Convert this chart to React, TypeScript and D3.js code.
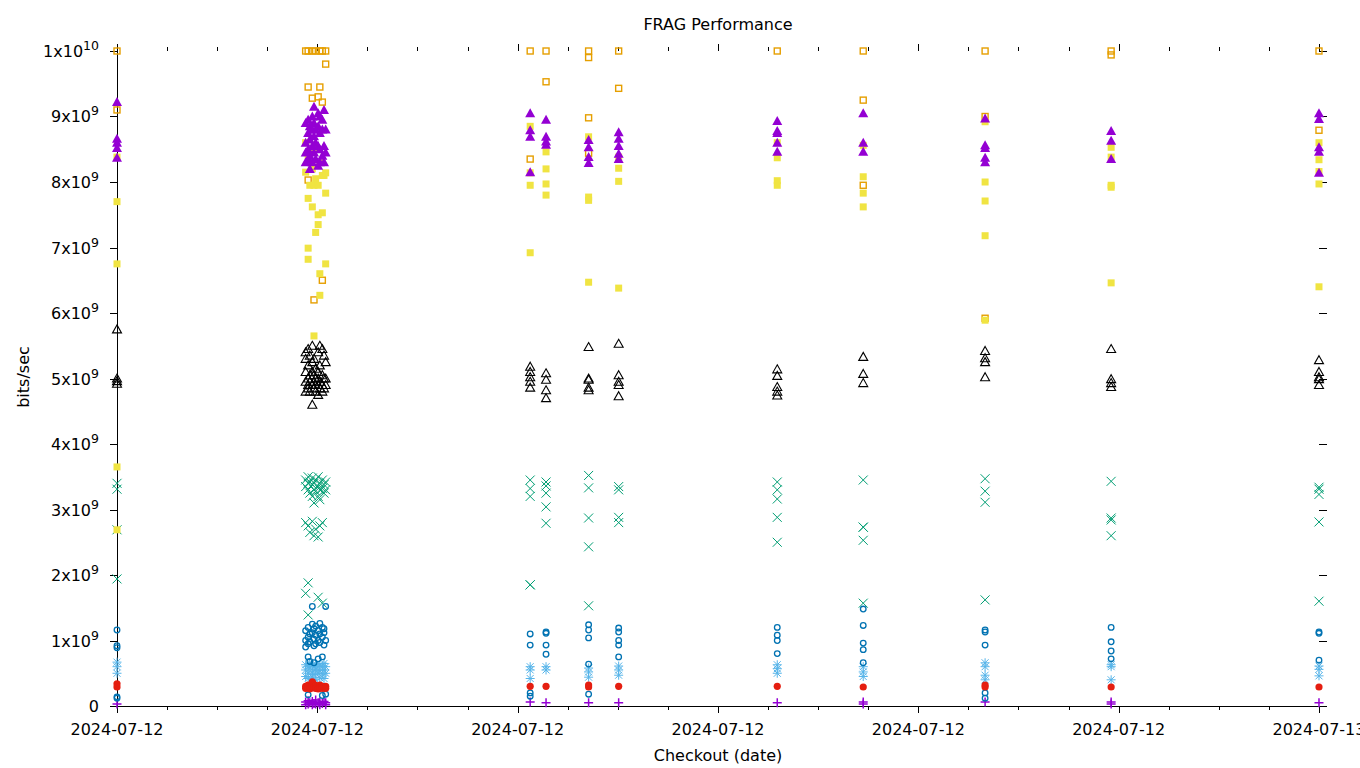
import React from "react";
import * as d3 from "d3";

// ---------- data (values in units of 1e9 bits/sec, time in minutes after 2024-07-12 00:00 UTC) ----------
const TITLE = "FRAG Performance";
const X_LABEL = "Checkout (date)";
const Y_LABEL = "bits/sec";

const yTickValues = [0, 1, 2, 3, 4, 5, 6, 7, 8, 9, 10];

// series 1: plus
const plusPts: [number, number[]][] = [
  [0, [0.03]],
  [226, [0.06, 0.02]], [229, [0.08, 0.03]], [231, [0.05]], [234, [0.07, 0.02]], [236, [0.04]],
  [238, [0.09, 0.03]], [241, [0.05]], [243, [0.06, 0.02]], [246, [0.04]], [248, [0.07]], [250, [0.05, 0.02]],
  [495, [0.06]], [514, [0.05]], [565, [0.05]], [601, [0.05]], [791, [0.05]],
  [894, [0.06, 0.03]], [1040, [0.06]], [1191, [0.06, 0.03]], [1440, [0.05]],
];
// series 2: cross
const crossPts: [number, number[]][] = [
  [0, [3.4, 3.31, 2.69, 1.94]],
  [226, [3.45, 3.35, 2.8, 1.72]], [229, [3.5, 3.4, 3.3, 2.75, 1.88, 1.39]], [231, [3.42, 3.25, 2.65]],
  [234, [3.48, 3.38, 3.2, 2.82]], [236, [3.4, 3.3, 3.1, 2.6]], [238, [3.45, 3.28, 2.7]],
  [241, [3.5, 3.35, 3.2, 2.58, 1.66]], [243, [3.4, 3.3, 3.15, 2.75]], [246, [3.45, 3.32, 2.8, 1.57]],
  [248, [3.38, 3.25]], [250, [3.42, 3.3]],
  [495, [3.45, 3.32, 3.2, 1.85, 1.85]], [514, [3.42, 3.36, 3.25, 3.04, 2.79]],
  [565, [3.52, 3.33, 2.87, 2.43, 1.53]], [601, [3.35, 3.3, 2.88, 2.8]],
  [791, [3.42, 3.3, 3.16, 2.88, 2.5]], [894, [3.45, 2.73, 2.73, 2.53, 1.57]],
  [1040, [3.47, 3.28, 3.11, 1.62]], [1191, [3.43, 2.87, 2.84, 2.6]], [1440, [3.34, 3.31, 3.23, 2.81, 1.6]],
];
// series 3: star
const starPts: [number, number[]][] = [
  [0, [0.67, 0.6, 0.5]],
  [226, [0.63, 0.55, 0.45]], [229, [0.6, 0.5, 0.42]], [231, [0.65, 0.58]], [234, [0.62, 0.52, 0.44]],
  [236, [0.6, 0.48]], [238, [0.64, 0.56, 0.4]], [241, [0.6, 0.5]], [243, [0.63, 0.54, 0.43]],
  [246, [0.61, 0.49]], [248, [0.65, 0.55, 0.42]], [250, [0.6, 0.5]],
  [495, [0.6, 0.55, 0.42]], [514, [0.6, 0.55]], [565, [0.58, 0.52, 0.44]], [601, [0.61, 0.55, 0.47]],
  [791, [0.63, 0.57, 0.5]], [894, [0.6, 0.52, 0.45]], [1040, [0.66, 0.6, 0.47, 0.4]],
  [1191, [0.63, 0.6, 0.4]], [1440, [0.61, 0.56, 0.46]],
];
// series 4: open square
const openSqPts: [number, number[]][] = [
  [0, [10, 9.1]],
  [226, [10]], [229, [10, 9.45, 8.03]], [234, [10, 9.28]], [236, [6.2]], [238, [10]], [241, [9.3]],
  [243, [10, 9.45]], [246, [10, 9.22, 6.5]], [250, [10, 9.8]],
  [495, [10, 8.35]], [514, [10, 9.53]], [565, [10, 9.9, 8.98, 8.44]], [601, [10, 9.43]],
  [791, [10]], [894, [10, 9.25, 7.95]], [1040, [10, 9.0, 5.92]], [1191, [10, 9.94]], [1440, [10, 8.79]],
];
// series 5: filled square
const fillSqPts: [number, number[]][] = [
  [0, [8.38, 7.7, 6.75, 3.65, 2.69]],
  [226, [8.6, 8.15]], [229, [8.4, 7.75, 6.99, 6.82]], [231, [7.95]], [234, [8.2, 7.62]],
  [236, [8.5, 7.95, 5.65]], [238, [8.05, 7.23]], [241, [7.95, 7.5, 7.35]], [243, [8.3, 6.6, 6.27]],
  [246, [8.1, 7.53]], [248, [8.1]], [250, [8.14, 7.83, 6.75]],
  [495, [8.85, 8.14, 7.95, 6.92]], [514, [8.46, 8.2, 7.97, 7.8]], [565, [8.69, 7.77, 7.72, 6.47]],
  [601, [8.38, 8.21, 8.01, 6.38]], [791, [8.6, 8.37, 8.02, 7.95]], [894, [8.56, 8.08, 7.83, 7.62]],
  [1040, [8.92, 8.0, 7.71, 7.18, 5.89]], [1191, [8.53, 8.38, 7.95, 7.92, 6.46]],
  [1440, [8.6, 8.34, 8.16, 7.97, 6.4]],
];
// series 6: open circle
const openCircPts: [number, number[]][] = [
  [0, [1.16, 0.92, 0.89, 0.14, 0.12]],
  [226, [1.15, 1.0, 0.9]], [229, [1.2, 1.05, 0.95, 0.75, 0.17]], [231, [1.1, 0.98, 0.68]],
  [234, [1.52, 1.25, 1.12]], [236, [1.18, 1.02, 0.92, 0.66]], [238, [1.22, 1.08, 0.95]],
  [241, [1.15, 1.0, 0.72]], [243, [1.26, 1.1, 0.97]], [246, [1.2, 1.05, 0.75, 0.16]],
  [248, [1.18, 1.12, 0.93]], [250, [1.52, 1.0, 0.18]],
  [495, [1.1, 0.93, 0.2, 0.15]], [514, [1.13, 1.11, 0.93, 0.79]], [565, [1.24, 1.16, 1.04, 0.64, 0.18]],
  [601, [1.19, 1.13, 1.0, 0.93, 0.75]], [791, [1.2, 1.08, 1.0, 0.8]], [894, [1.48, 1.23, 0.96, 0.86, 0.66]],
  [1040, [1.16, 1.13, 0.93, 0.2, 0.12]], [1191, [1.2, 0.98, 0.84, 0.72]], [1440, [1.13, 1.11, 0.7]],
];
// series 7: filled circle
const fillCircPts: [number, number[]][] = [
  [0, [0.34, 0.29]],
  [226, [0.3, 0.27]], [229, [0.32, 0.28]], [231, [0.3, 0.26]], [234, [0.37, 0.3]], [236, [0.33, 0.28]],
  [238, [0.31, 0.27]], [241, [0.3, 0.26]], [243, [0.32, 0.28]], [246, [0.3, 0.27]], [248, [0.29]],
  [250, [0.3, 0.27]],
  [495, [0.3]], [514, [0.3]], [565, [0.32, 0.29]], [601, [0.3]], [791, [0.3]], [894, [0.29]],
  [1040, [0.32, 0.29]], [1191, [0.29]], [1440, [0.29]],
];
// series 8: open triangle
const openTriPts: [number, number[]][] = [
  [0, [5.75, 5.0, 4.96, 4.92]],
  [226, [5.4, 5.3, 5.1, 4.95, 4.8]], [229, [5.45, 5.2, 5.0, 4.9, 4.85]], [231, [5.35, 5.05, 4.95, 4.8]],
  [234, [5.5, 5.25, 5.1, 4.9, 4.6]], [236, [5.3, 5.05, 4.95, 4.85]], [238, [5.15, 5.0, 4.9, 4.8]],
  [241, [5.4, 5.1, 5.0, 4.9, 4.75]], [243, [5.5, 5.2, 4.95, 4.85]], [246, [5.45, 5.05, 4.9, 4.8]],
  [248, [5.35, 5.0, 4.85]], [250, [5.25, 5.0, 4.9]],
  [495, [5.18, 5.1, 5.02, 4.95, 4.86]], [514, [5.08, 4.98, 4.82, 4.7]], [565, [5.48, 5.0, 4.98, 4.86, 4.82]],
  [601, [5.53, 5.05, 4.95, 4.9, 4.73]], [791, [5.14, 5.04, 4.87, 4.8, 4.74]], [894, [5.33, 5.07, 4.93]],
  [1040, [5.42, 5.31, 5.25, 5.02]], [1191, [5.45, 4.99, 4.93, 4.87]], [1440, [5.28, 5.1, 5.02, 4.99, 4.9]],
];
// series 9: filled triangle
const fillTriPts: [number, number[]][] = [
  [0, [9.22, 8.66, 8.6, 8.52, 8.37]],
  [226, [8.9, 8.6, 8.45, 8.3]], [229, [8.95, 8.75, 8.5, 8.35]], [231, [8.85, 8.65, 8.4, 8.2]],
  [234, [9.0, 8.8, 8.55, 8.3]], [236, [9.15, 8.9, 8.7, 8.45]], [238, [8.8, 8.6, 8.35]],
  [241, [9.05, 8.85, 8.55, 8.25]], [243, [9.0, 8.75, 8.5, 8.3]], [246, [8.95, 8.8, 8.4]],
  [248, [9.1, 8.55, 8.3]], [250, [8.8, 8.45]],
  [495, [9.05, 8.79, 8.69, 8.15]], [514, [8.95, 8.69, 8.62, 8.57]], [565, [8.64, 8.53, 8.38, 8.29]],
  [601, [8.76, 8.66, 8.55, 8.43, 8.35]], [791, [8.93, 8.78, 8.75, 8.6, 8.46]], [894, [9.05, 8.6, 8.46]],
  [1040, [8.97, 8.56, 8.52, 8.37, 8.3]], [1191, [8.78, 8.63, 8.35]], [1440, [9.05, 8.96, 8.53, 8.46, 8.14]],
];

const seriesDefs = [
  { pts: plusPts, shape: "plus", color: "#9400d3" },
  { pts: crossPts, shape: "cross", color: "#009e73" },
  { pts: starPts, shape: "star", color: "#56b4e9" },
  { pts: openSqPts, shape: "openSq", color: "#e69f00" },
  { pts: fillSqPts, shape: "fillSq", color: "#f0e442" },
  { pts: openCircPts, shape: "openCirc", color: "#0072b2" },
  { pts: fillCircPts, shape: "fillCirc", color: "#e51e10" },
  { pts: openTriPts, shape: "openTri", color: "#000000" },
  { pts: fillTriPts, shape: "fillTri", color: "#9400d3" },
];

// ---------- layout ----------
const W = 1360, H = 768;
const PL = 117, PR = 1327, PT = 51, PB = 706;
const START = Date.UTC(2024, 6, 12, 0, 0);
const MIN = 60000;
const FONT = "'DejaVu Sans', sans-serif";
const FS = 16;

function Marker({ shape, color, x, y }: { shape: string; color: string; x: number; y: number }) {
  const r = 4.5;
  switch (shape) {
    case "plus":
      return <path d={`M${x - r},${y}H${x + r}M${x},${y - r}V${y + r}`} stroke={color} strokeWidth={1.5} fill="none" />;
    case "cross":
      return <path d={`M${x - r},${y - r}L${x + r},${y + r}M${x - r},${y + r}L${x + r},${y - r}`} stroke={color} strokeWidth={1} fill="none" />;
    case "star":
      return <path d={`M${x - r},${y}H${x + r}M${x},${y - r}V${y + r}M${x - 3.5},${y - 3.5}L${x + 3.5},${y + 3.5}M${x - 3.5},${y + 3.5}L${x + 3.5},${y - 3.5}`} stroke={color} strokeWidth={1} fill="none" />;
    case "openSq":
      return <rect x={x - 3} y={y - 3} width={6} height={6} stroke={color} strokeWidth={1.4} fill="none" />;
    case "fillSq":
      return <rect x={x - 3.5} y={y - 3.5} width={7} height={7} fill={color} />;
    case "openCirc":
      return <circle cx={x} cy={y} r={2.8} stroke={color} strokeWidth={1.3} fill="none" />;
    case "fillCirc":
      return <circle cx={x} cy={y} r={3.6} fill={color} />;
    case "openTri":
      return <path d={`M${x},${y - 4.5}L${x + 4.5},${y + 3.5}L${x - 4.5},${y + 3.5}Z`} stroke={color} strokeWidth={1.1} fill="none" />;
    case "fillTri":
      return <path d={`M${x},${y - 5}L${x + 5},${y + 4}L${x - 5},${y + 4}Z`} fill={color} />;
  }
  return null;
}

export default function App() {
  const x = d3.scaleUtc().domain([new Date(START), new Date(START + 1449.6 * MIN)]).range([PL, PR]);
  const y = d3.scaleLinear().domain([0, 10e9]).range([PB, PT]);
  const majorX = d3.utcHour.every(4)!.range(new Date(START), new Date(START + 1441 * MIN));
  const minorX = d3.utcHour.range(new Date(START), new Date(START + 1441 * MIN));
  const fmt = d3.utcFormat("%Y-%m-%d");
  const xLast = x(new Date(START + 1440 * MIN));

  return (
    <svg width={W} height={H} style={{ position: "absolute", left: 0, top: 0, background: "#fff" }} fontFamily={FONT}>
      <rect width={W} height={H} fill="#fff" />
      {/* axes */}
      <line x1={PL} x2={PL} y1={PT} y2={PB} stroke="#000" strokeWidth={1} shapeRendering="crispEdges" />
      <line x1={PL} x2={PR} y1={PB} y2={PB} stroke="#000" strokeWidth={1} shapeRendering="crispEdges" />
      {/* x ticks bottom & top */}
      {minorX.map((d, i) => {
        const isMajor = majorX.some((m) => +m === +d);
        const xx = Math.round(x(d)) + 0.5;
        const len = isMajor ? 7 : 4;
        return (
          <g key={"xt" + i} stroke="#000" strokeWidth={1} shapeRendering="crispEdges">
            <line x1={xx} x2={xx} y1={PB} y2={PB + len} />
            <line x1={xx} x2={xx} y1={PT} y2={PT - len} />
          </g>
        );
      })}
      {majorX.map((d, i) => (
        <text key={"xl" + i} x={x(d)} y={735} textAnchor="middle" fontSize={FS} fill="#000">
          {fmt(d)}
        </text>
      ))}
      {/* y ticks */}
      {yTickValues.map((v) => {
        const yy = Math.round(y(v * 1e9)) + 0.5;
        return (
          <g key={"yt" + v}>
            <line x1={PL - 7} x2={PL} y1={yy} y2={yy} stroke="#000" shapeRendering="crispEdges" />
            <line x1={xLast} x2={xLast + 8} y1={yy} y2={yy} stroke="#000" shapeRendering="crispEdges" />
            <text x={99} y={yy + 5} textAnchor="end" fontSize={FS} fill="#000">
              {v === 0 ? "0" : (
                <>
                  {v === 10 ? "1x10" : `${v}x10`}
                  <tspan dy={-7} fontSize={12.5}>{v === 10 ? "10" : "9"}</tspan>
                </>
              )}
            </text>
          </g>
        );
      })}
      {/* points */}
      {seriesDefs.map((s, si) => (
        <g key={"s" + si}>
          {s.pts.flatMap(([t, vals], ti) =>
            vals.map((v, vi) => (
              <Marker key={`${si}-${ti}-${vi}`} shape={s.shape} color={s.color}
                x={x(new Date(START + t * MIN))} y={y(v * 1e9)} />
            ))
          )}
        </g>
      ))}
      {/* labels */}
      <text x={718} y={30} textAnchor="middle" fontSize={FS} fill="#000">{TITLE}</text>
      <text x={718} y={761} textAnchor="middle" fontSize={FS} fill="#000">{X_LABEL}</text>
      <text transform={`translate(29,377) rotate(-90)`} textAnchor="middle" fontSize={FS} fill="#000">{Y_LABEL}</text>
    </svg>
  );
}
